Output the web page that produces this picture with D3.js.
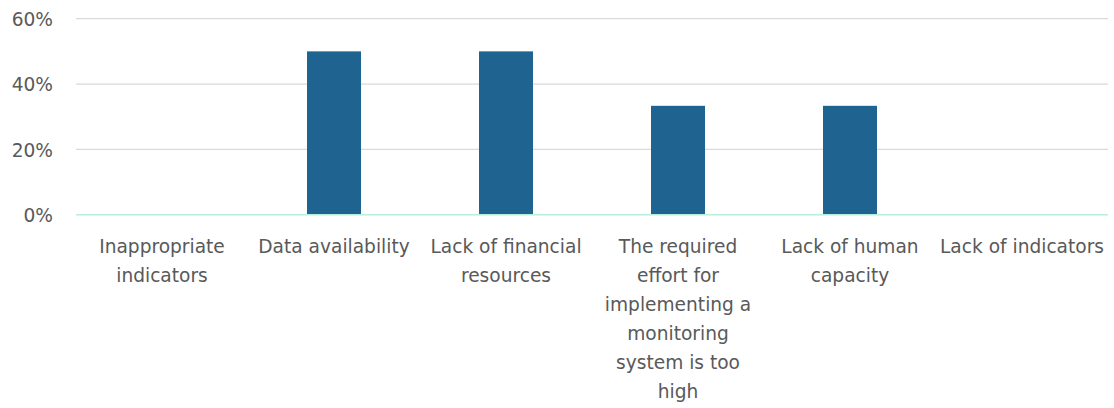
<!DOCTYPE html>
<html>
<head>
<meta charset="utf-8">
<script src="https://cdn.jsdelivr.net/npm/d3@7"></script>
<style>
  html, body { margin: 0; padding: 0; background: #fff; }
  svg { display: block; }
  text { font-family: "DejaVu Sans", "Open Sans", sans-serif; fill: #595959; }
</style>
</head>
<body>
<svg id="chart" width="1114" height="408"></svg>
<script>
const categories = [
  "Inappropriate indicators",
  "Data availability",
  "Lack of financial resources",
  "The required effort for implementing a monitoring system is too high",
  "Lack of human capacity",
  "Lack of indicators"
];
const categoryLines = [
  ["Inappropriate", "indicators"],
  ["Data availability"],
  ["Lack of financial", "resources"],
  ["The required", "effort for", "implementing a", "monitoring", "system is too", "high"],
  ["Lack of human", "capacity"],
  ["Lack of indicators"]
];
const values = [0, 0.5, 0.5, 0.3333, 0.3333, 0];
const yTicks = [0, 0.2, 0.4, 0.6];

const svg = d3.select("#chart");
const mLeft = 76, mRight = 1108, mTop = 18.7, mBottom = 214.7;
const fontSize = 18.6;

const x = d3.scaleBand().domain(categories).range([mLeft, mRight])
  .paddingInner(0.686).paddingOuter(0.343);
const y = d3.scaleLinear().domain([0, 0.6]).range([mBottom, mTop]);

// gridlines
svg.append("g").selectAll("line").data(yTicks.filter(d => d > 0)).join("line")
  .attr("x1", mLeft).attr("x2", mRight)
  .attr("y1", d => y(d)).attr("y2", d => y(d))
  .attr("stroke", "#d9d9d9").attr("stroke-width", 1.3);

// y axis labels
const yAxis = d3.axisLeft(y).tickValues(yTicks).tickFormat(d3.format(".0%")).tickSize(0).tickPadding(0);
const ya = svg.append("g").attr("transform", `translate(${53},0)`).call(yAxis);
ya.select(".domain").remove();
ya.selectAll("text").attr("font-size", fontSize).attr("fill", "#595959")
  .style("font-family", "'DejaVu Sans', 'Open Sans', sans-serif").attr("dy", "0.36em");

// bars
svg.append("g").selectAll("rect").data(values).join("rect")
  .attr("x", (d, i) => x(categories[i]))
  .attr("width", x.bandwidth())
  .attr("y", d => y(d))
  .attr("height", d => y(0) - y(d))
  .attr("fill", "#1f6391");

// baseline
svg.append("line")
  .attr("x1", mLeft).attr("x2", mRight)
  .attr("y1", y(0)).attr("y2", y(0))
  .attr("stroke", "#b8efdc").attr("stroke-width", 1.5);

// x labels
const xl = svg.append("g");
categories.forEach((c, i) => {
  const cx = x(c) + x.bandwidth() / 2;
  const t = xl.append("text").attr("text-anchor", "middle").attr("font-size", fontSize);
  categoryLines[i].forEach((ln, j) => {
    t.append("tspan").attr("x", cx).attr("y", 252.7 + j * 29).text(ln);
  });
});
</script>
</body>
</html>
